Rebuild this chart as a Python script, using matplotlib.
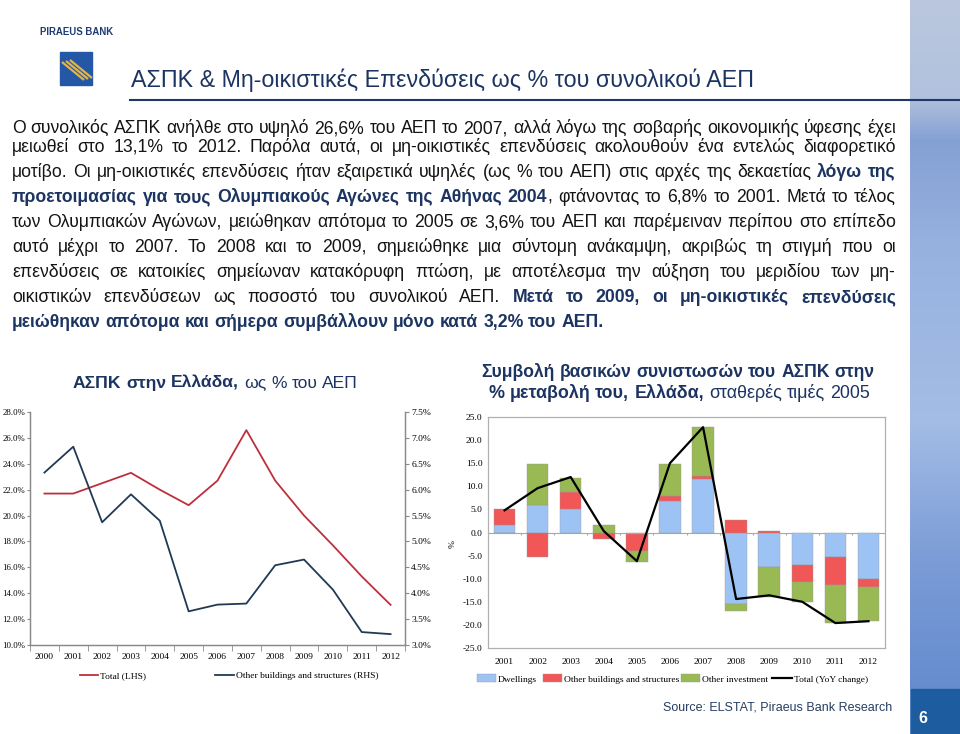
import matplotlib
matplotlib.use('Agg')
import matplotlib.pyplot as plt
import numpy as np
from matplotlib.patches import Rectangle, Patch
from matplotlib.lines import Line2D

# ---------------- data ----------------
years_l = ['2000', '2001', '2002', '2003', '2004', '2005', '2006',
           '2007', '2008', '2009', '2010', '2011', '2012']
total_lhs = [21.7, 21.7, 22.5, 23.3, 22.0, 20.8, 22.7, 26.6, 22.7, 20.0, 17.7, 15.3, 13.1]
other_rhs = [6.33, 6.83, 5.37, 5.91, 5.40, 3.65, 3.78, 3.80, 4.54, 4.65, 4.07, 3.25, 3.21]
lhs_ticks = [10, 12, 14, 16, 18, 20, 22, 24, 26, 28]
rhs_ticks = [3.0, 3.5, 4.0, 4.5, 5.0, 5.5, 6.0, 6.5, 7.0, 7.5]

years_b = ['2001', '2002', '2003', '2004', '2005', '2006',
           '2007', '2008', '2009', '2010', '2011', '2012']
dwellings = [1.7, 5.9, 5.1, 0.0, -0.3, 6.8, 11.5, -15.5, -7.5, -7.1, -5.4, -10.1]
other_build = [3.3, -5.2, 3.7, -1.3, -3.8, 1.2, 0.7, 2.7, 0.3, -3.6, -5.9, -1.8]
other_inv = [-0.2, 8.9, 3.0, 1.6, -2.3, 6.9, 10.6, -1.5, -6.4, -4.3, -8.3, -7.3]
total_yoy = [4.8, 9.6, 12.0, 0.3, -6.2, 15.0, 22.8, -14.4, -13.6, -15.0, -19.6, -19.2]
bar_ticks = [-25, -20, -15, -10, -5, 0, 5, 10, 15, 20, 25]

# ---------------- setup ----------------
W, H = 960, 734
SANS = ['Liberation Sans', 'DejaVu Sans']
SERIF = ['Liberation Serif', 'DejaVu Serif']
plt.rcParams['font.family'] = SERIF
NAVY = '#1C3461'
fig = plt.figure(figsize=(9.6, 7.34), dpi=100)
fig.patch.set_facecolor('white')
ov = fig.add_axes([0, 0, 1, 1])
ov.set_xlim(0, W)
ov.set_ylim(H, 0)
ov.axis('off')
renderer = fig.canvas.get_renderer()


def txt(x, y, s, size, weight='normal', color='k', family=SANS, ha='left', va='baseline', **kw):
    return ov.text(x, y, s, fontsize=size, fontweight=weight, color=color,
                   family=family, ha=ha, va=va, **kw)


def width(t):
    return t.get_window_extent(renderer).width


def measure(s, size, weight='normal'):
    t = txt(100, 100, s, size, weight)
    w = width(t)
    t.remove()
    return w


def runs_line(x, y, runs, size, right=None, center=None, fit_to=None, draw=True):
    words = [[]]
    for text, bold, color in runs:
        parts = text.split(' ')
        for i, p in enumerate(parts):
            if i > 0:
                words.append([])
            if p:
                words[-1].append((p, bold, color))
    words = [w for w in words if w]

    def meas(sz):
        m = [[measure(p, sz, 'bold' if b else 'normal') for p, b, c in w] for w in words]
        sp = measure('a a', sz) - measure('aa', sz)
        return m, sp

    m, sp = meas(size)
    if fit_to is not None:
        full = sum(sum(v) for v in m) + sp * (len(words) - 1)
        size = size * fit_to / full
        m, sp = meas(size)
    if not draw:
        return size
    totals = [sum(v) for v in m]
    if right is not None and len(words) > 1:
        gap = (right - x - sum(totals)) / (len(words) - 1)
    else:
        gap = sp
    full = sum(totals) + gap * (len(words) - 1)
    if center is not None:
        x = center - full / 2
    cx = x
    for w, mm in zip(words, m):
        for (p, b, c), pw in zip(w, mm):
            txt(cx, y, p, size, 'bold' if b else 'normal', c)
            cx += pw
        cx += gap
    return size


# ---------------- right decorative band ----------------
ys = np.arange(H)
stops_y = [0, 95, 140, 260, 420, 560, 690, 734]
stops_c = np.array([[0.73, 0.78, 0.87], [0.70, 0.76, 0.87], [0.52, 0.63, 0.83],
                    [0.60, 0.70, 0.88], [0.64, 0.74, 0.90], [0.48, 0.61, 0.84],
                    [0.40, 0.55, 0.81], [0.40, 0.55, 0.81]])
col = np.stack([np.interp(ys, stops_y, stops_c[:, k]) for k in range(3)], axis=1)
img = np.repeat(col[:, None, :], 8, axis=1)
ov.imshow(img, extent=[910, 960, H, 0], aspect='auto', zorder=0)
ov.add_patch(Rectangle((911, 689), 49, 45, color='#1E5CA0', zorder=1))
txt(918, 723, '6', 11.5, 'bold', 'white')

# ---------------- header ----------------
t = txt(40, 35, 'PIRAEUS BANK', 7, 'bold', '#1F3B73')
t.set_fontsize(7 * 73 / width(t))
ov.add_patch(Rectangle((60, 52), 32, 33, color='#2458A6', zorder=2))
for k in range(3):
    ov.plot([62 + 4 * k, 84 + 4 * k], [62 - 1 * k, 80 - 1 * k], color='#E3B446',
            lw=1.6, zorder=3, solid_capstyle='butt')
t = txt(131, 87, 'ΑΣΠΚ & Μη-οικιστικές Επενδύσεις ως % του συνολικού ΑΕΠ', 14, 'normal', NAVY)
t.set_fontsize(14 * 625 / width(t))
ov.plot([130, 960], [99.5, 99.5], color='#1F3864', lw=1.5, zorder=3)

# ---------------- paragraph ----------------
DK = '#141414'
para = [
    [("Ο συνολικός ΑΣΠΚ ανήλθε στο υψηλό 26,6% του ΑΕΠ το 2007, αλλά λόγω της σοβαρής οικονομικής ύφεσης έχει", False, DK)],
    [("μειωθεί στο 13,1% το 2012. Παρόλα αυτά, οι μη-οικιστικές επενδύσεις ακολουθούν ένα εντελώς διαφορετικό", False, DK)],
    [("μοτίβο. Οι μη-οικιστικές επενδύσεις ήταν εξαιρετικά υψηλές (ως % του ΑΕΠ) στις αρχές της δεκαετίας ", False, DK),
     ("λόγω της", True, NAVY)],
    [("προετοιμασίας για τους Ολυμπιακούς Αγώνες της Αθήνας 2004", True, NAVY),
     (", φτάνοντας το 6,8% το 2001. Μετά το τέλος", False, DK)],
    [("των Ολυμπιακών Αγώνων, μειώθηκαν απότομα το 2005 σε 3,6% του ΑΕΠ και παρέμειναν περίπου στο επίπεδο", False, DK)],
    [("αυτό μέχρι το 2007. Το 2008 και το 2009, σημειώθηκε μια σύντομη ανάκαμψη, ακριβώς τη στιγμή που οι", False, DK)],
    [("επενδύσεις σε κατοικίες σημείωναν κατακόρυφη πτώση, με αποτέλεσμα την αύξηση του μεριδίου των μη-", False, DK)],
    [("οικιστικών επενδύσεων ως ποσοστό του συνολικού ΑΕΠ. ", False, DK),
     ("Μετά το 2009, οι μη-οικιστικές επενδύσεις", True, NAVY)],
    [("μειώθηκαν απότομα και σήμερα συμβάλλουν μόνο κατά 3,2% του ΑΕΠ.", True, NAVY)],
]
baselines = [133, 152, 177, 202, 227, 252, 277, 302, 327]
# size determined by the last (non-justified) line
psize = runs_line(0, 0, para[-1], 12, fit_to=591, draw=False)
for runs, yb in zip(para[:-1], baselines[:-1]):
    runs_line(12, yb, runs, psize, right=896)
runs_line(12, baselines[-1], para[-1], psize)

# ---------------- chart titles ----------------
runs_line(0, 388, [("ΑΣΠΚ στην Ελλάδα,", True, NAVY), (" ως % του ΑΕΠ", False, NAVY)],
          13, center=215.5, fit_to=285)
runs_line(0, 377, [("Συμβολή βασικών συνιστωσών του ΑΣΠΚ στην", True, NAVY)],
          13, center=678, fit_to=394)
runs_line(0, 398, [("% μεταβολή του, Ελλάδα,", True, NAVY), (" σταθερές τιμές 2005", False, NAVY)],
          13, center=679, fit_to=378)
txt(892, 710, 'Source: ELSTAT, Piraeus Bank Research', 9, 'normal', '#263E62', ha='right')

GRAY = '#8A8A8A'
TS = 6.8

# ---------------- left chart ----------------
ax1 = fig.add_axes([30 / W, 1 - 645 / H, 375 / W, 233 / H])
ax1.set_facecolor('none')
xl = np.arange(len(years_l))
ax1.plot(xl, total_lhs, color='#BE2F3D', lw=1.3, zorder=3)
ax1.set_xlim(-0.5, len(years_l) - 0.5)
ax1.set_ylim(lhs_ticks[0], lhs_ticks[-1])
ax1.set_yticks(lhs_ticks, labels=[f'{v:.1f}%' for v in lhs_ticks])
ax1.set_xticks(xl, labels=years_l)
ax1.set_xticks(np.arange(-0.5, len(years_l), 1), minor=True)
ax1.tick_params(axis='x', which='major', length=0, pad=6, labelsize=TS)
ax1.tick_params(axis='x', which='minor', length=4, direction='out', color=GRAY)
ax1.tick_params(axis='y', length=2.5, direction='out', color=GRAY, labelsize=6.3, pad=0.8)
ax2 = ax1.twinx()
ax2.plot(xl, other_rhs, color='#203A55', lw=1.3, zorder=3)
ax2.set_ylim(rhs_ticks[0], rhs_ticks[-1])
ax2.set_yticks(rhs_ticks, labels=[f'{v:.1f}%' for v in rhs_ticks])
ax2.tick_params(axis='y', length=3, direction='out', color=GRAY, labelsize=TS, pad=1.5)
for a in (ax1, ax2):
    a.spines['top'].set_visible(False)
    for s in ('left', 'right', 'bottom'):
        a.spines[s].set_color(GRAY)
        a.spines[s].set_linewidth(0.9)

fig.legend(handles=[Line2D([], [], color='#BE2F3D', lw=1.3)], labels=['Total (LHS)'],
           loc='center left', bbox_to_anchor=(80 / W, 1 - 676 / H), frameon=False,
           fontsize=TS, handlelength=1.9, handletextpad=0.2, borderpad=0, borderaxespad=0)
fig.legend(handles=[Line2D([], [], color='#203A55', lw=1.3)],
           labels=['Other buildings and structures (RHS)'],
           loc='center left', bbox_to_anchor=(215 / W, 1 - 676 / H), frameon=False,
           fontsize=TS, handlelength=2.0, handletextpad=0.2, borderpad=0, borderaxespad=0)

# ---------------- right chart ----------------
BLUE, RED, GREEN = '#9DC3F5', '#F25757', '#98B954'
axb = fig.add_axes([488 / W, 1 - 648 / H, 397 / W, 231 / H])
axb.set_facecolor('none')
xb = np.arange(len(years_b))
pos = np.zeros(len(xb))
neg = np.zeros(len(xb))
for vals, c in ((dwellings, BLUE), (other_build, RED), (other_inv, GREEN)):
    v = np.array(vals)
    bottom = np.where(v >= 0, pos, neg)
    axb.bar(xb, v, bottom=bottom, width=0.65, color=c, edgecolor='#9a9a9a',
            linewidth=0.3, zorder=2)
    pos += np.where(v >= 0, v, 0)
    neg += np.where(v < 0, v, 0)
axb.axhline(0, color='#A8A8A8', lw=0.8, zorder=1)
axb.vlines(np.arange(0.5, len(xb) - 1, 1), -0.5, 0, color='#A8A8A8', lw=0.8, zorder=1)
axb.plot(xb, total_yoy, color='black', lw=1.6, zorder=4)
axb.set_xlim(-0.5, len(xb) - 0.5)
axb.set_ylim(bar_ticks[0], bar_ticks[-1])
axb.set_yticks(bar_ticks, labels=[f'{v:.1f}' for v in bar_ticks])
axb.set_xticks(xb, labels=years_b)
axb.tick_params(axis='x', length=0, pad=7, labelsize=TS)
axb.tick_params(axis='y', length=0, pad=4, labelsize=TS)
axb.set_ylabel('%', fontsize=TS)
axb.yaxis.set_label_coords(-0.08, 0.45)
for s in axb.spines.values():
    s.set_color('#B0B0B0')
    s.set_linewidth(0.9)

leg_items = [
    (Patch(facecolor=BLUE, edgecolor='#9a9a9a', linewidth=0.3), 'Dwellings', 477, 2.0),
    (Patch(facecolor=RED, edgecolor='#9a9a9a', linewidth=0.3), 'Other buildings and structures', 543, 2.0),
    (Patch(facecolor=GREEN, edgecolor='#9a9a9a', linewidth=0.3), 'Other investment', 681, 2.0),
    (Line2D([], [], color='black', lw=1.6), 'Total (YoY change)', 772, 2.1),
]
for h, lab, xp, hl in leg_items:
    fig.legend(handles=[h], labels=[lab], loc='center left',
               bbox_to_anchor=(xp / W, 1 - 679 / H), frameon=False, fontsize=TS,
               handlelength=hl, handleheight=0.9, handletextpad=0.2,
               borderpad=0, borderaxespad=0)

fig.savefig('out.png', dpi=100, facecolor='white')
